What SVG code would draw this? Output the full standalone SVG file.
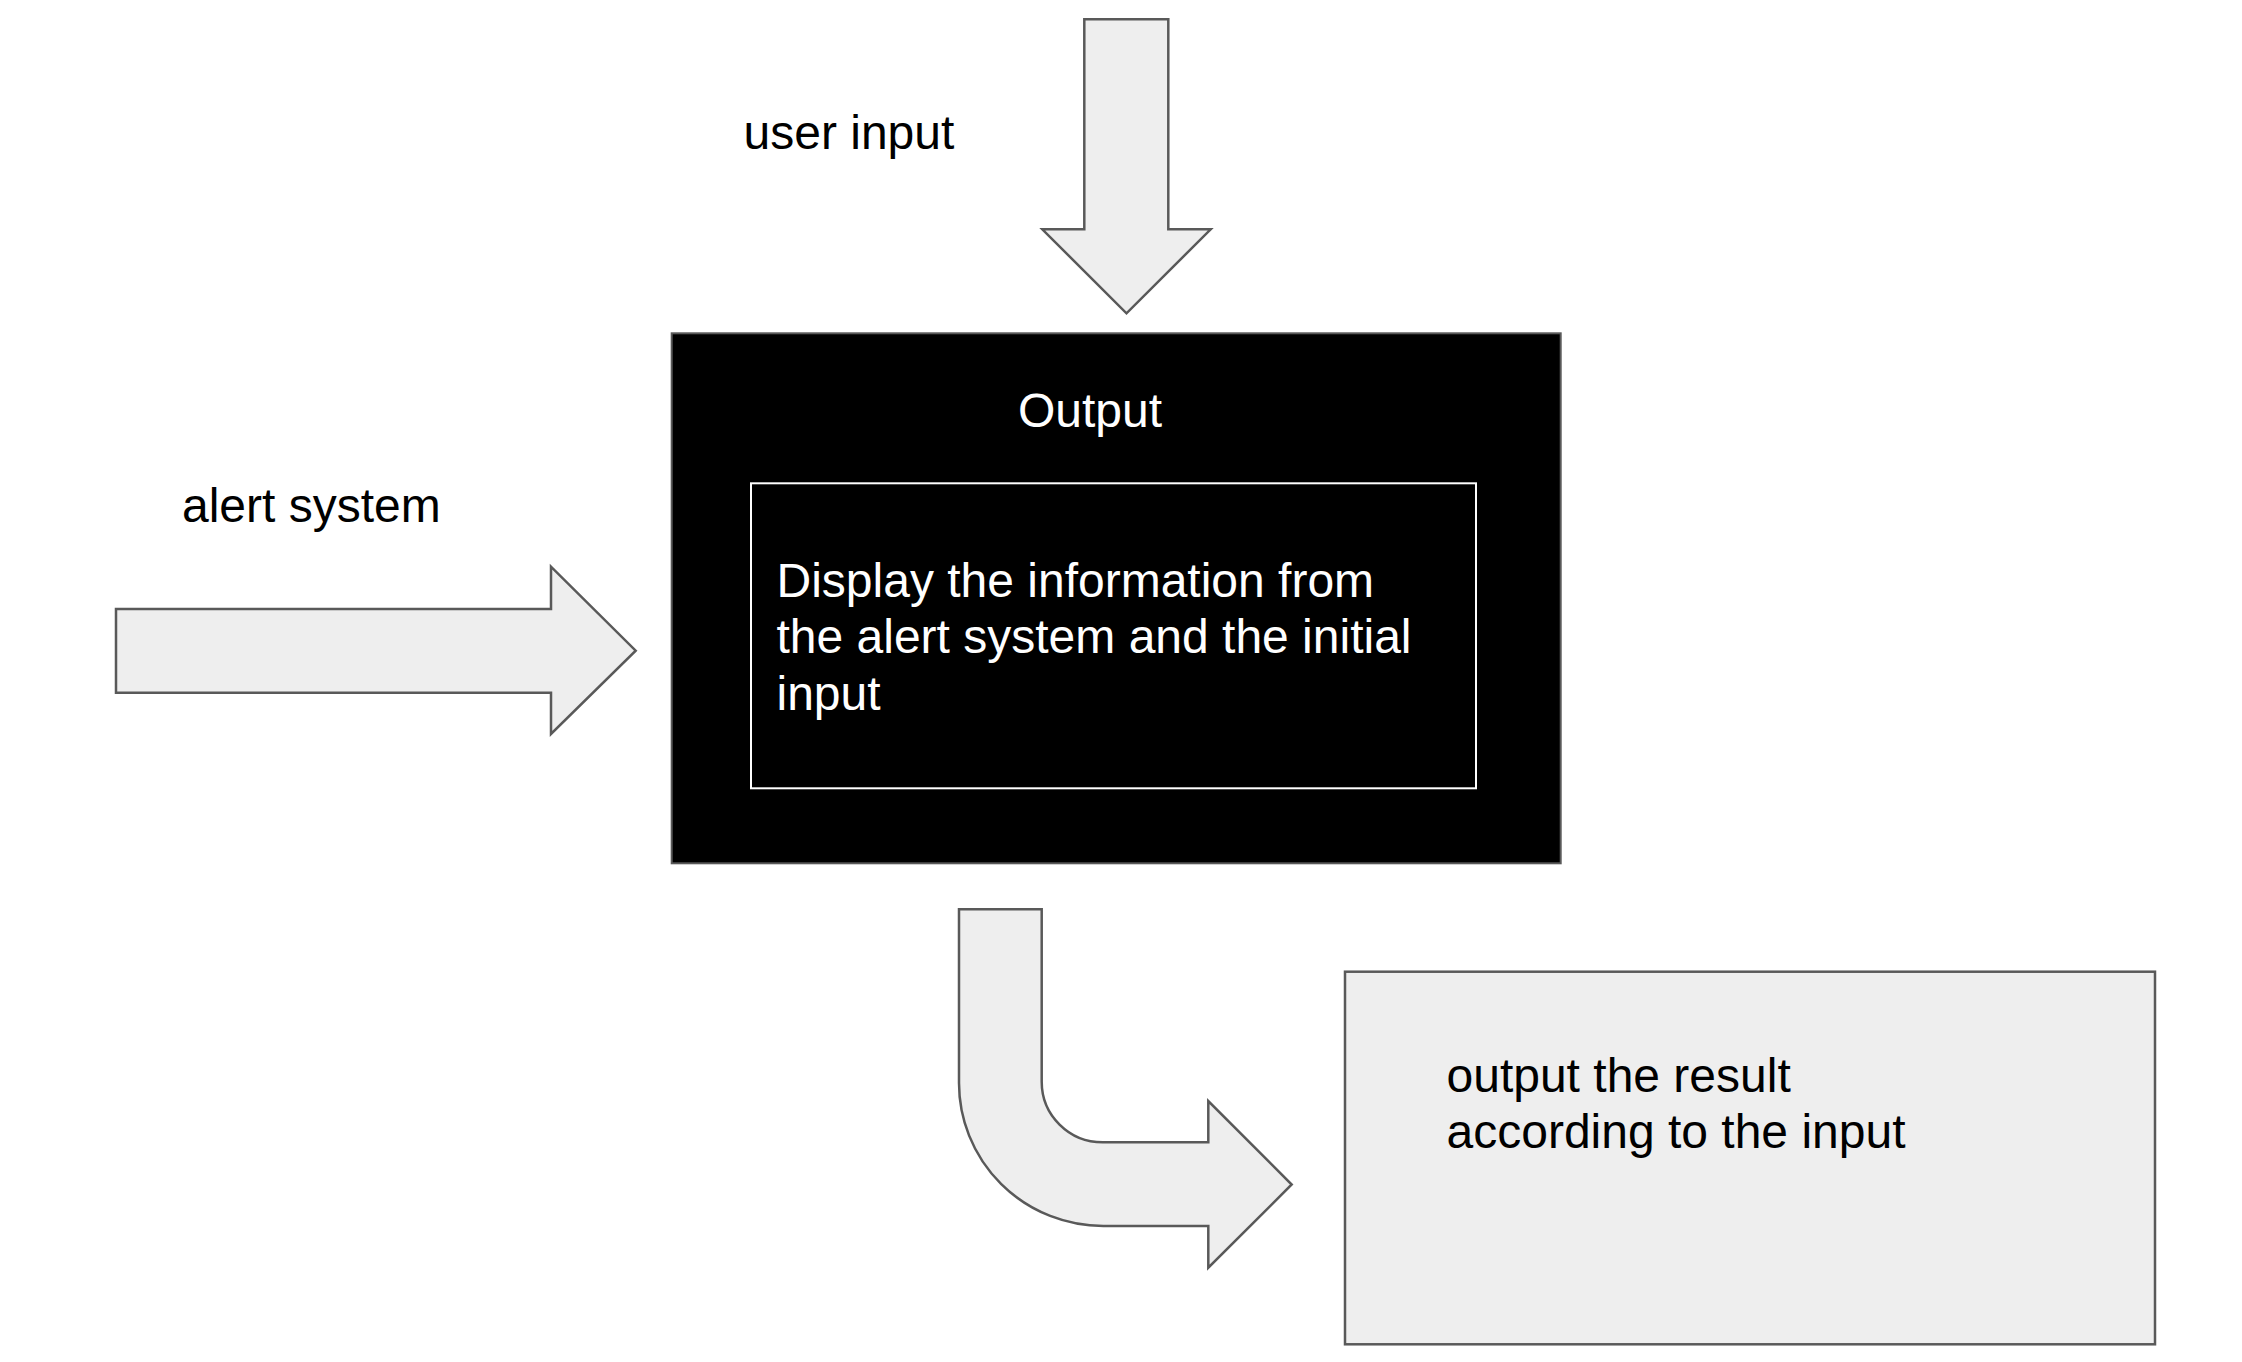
<svg xmlns="http://www.w3.org/2000/svg" width="2242" height="1362" viewBox="0 0 2242 1362">
<style>
.arrow{fill:#eeeeee;stroke:#595959;stroke-width:2.5;stroke-linejoin:miter}
.lbl{font-family:"Liberation Sans",Arial,sans-serif;font-size:48px;fill:#000000}
.wlbl{font-family:"Liberation Sans",Arial,sans-serif;font-size:48px;fill:#ffffff}
</style>
<rect width="2242" height="1362" fill="#ffffff"/>
<g id="connectors">
<path id="arrow-user-input" class="arrow" d="M1084.3 19.3 L1168.3 19.3 L1168.3 229.3 L1210.7 229.3 L1126.5 313.3 L1042.3 229.3 L1084.3 229.3 Z"/>
<path id="arrow-alert" class="arrow" d="M116 609 L551 609 L551 566.7 L635.7 650.7 L551 734 L551 692.7 L116 692.7 Z"/>
<path id="arrow-result" class="arrow" d="M959 909.3 L1041.7 909.3 L1041.7 1081.7 A61 60.6 0 0 0 1102.7 1142.3 L1208.3 1142.3 L1208.3 1101 L1291.7 1184.5 L1208.3 1267.7 L1208.3 1226 L1103.3 1226 A144.3 143 0 0 1 959 1083 Z"/>
</g>
<g id="label-user-input">
<text class="lbl" x="743.5" y="148.5">user input</text>
</g>
<g id="label-alert-system">
<text class="lbl" x="182" y="522.3">alert system</text>
</g>
<g id="node-output">
<rect x="671.7" y="333.3" width="889" height="530" fill="#000000" stroke="#595959" stroke-width="2"/>
<text class="wlbl" x="1018" y="426.7">Output</text>
</g>
<g id="node-display">
<rect x="751" y="483.3" width="725" height="305" fill="#000000" stroke="#ffffff" stroke-width="2"/>
<text class="wlbl" x="776.5" y="596.7">Display the information from</text>
<text class="wlbl" x="776.5" y="653.3">the alert system and the initial</text>
<text class="wlbl" x="776.5" y="709.7">input</text>
</g>
<g id="node-result">
<rect x="1345" y="971.7" width="810" height="372.6" fill="#eeeeee" stroke="#595959" stroke-width="2.5"/>
<text class="lbl" x="1446.5" y="1091.7">output the result</text>
<text class="lbl" x="1446.5" y="1148.3">according to the input</text>
</g>
</svg>
